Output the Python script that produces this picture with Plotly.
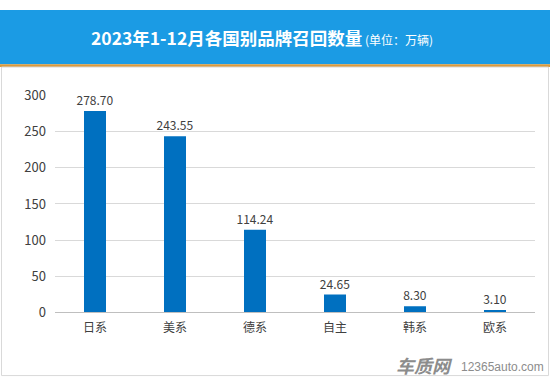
import plotly.graph_objects as go

categories = ["日系", "美系", "德系", "自主", "韩系", "欧系"]
values = [278.70, 243.55, 114.24, 24.65, 8.30, 3.10]
value_labels = ["278.70", "243.55", "114.24", "24.65", "8.30", "3.10"]
y_ticks = [0, 50, 100, 150, 200, 250, 300]

W, H = 550, 386
FONT = "Noto Sans CJK SC, Noto Sans, sans-serif"

def px_x(p):
    return p / W

def px_y(p):
    return 1 - p / H

fig = go.Figure(go.Bar(
    x=categories, y=values,
    marker=dict(color="#0070C0", line=dict(width=0)),
    text=value_labels, textposition="outside", cliponaxis=False,
    constraintext="none",
    textfont=dict(size=12, color="#404040", family=FONT),
    hoverinfo="skip",
))

fig.update_layout(
    width=W, height=H,
    margin=dict(l=0, r=0, t=0, b=0),
    paper_bgcolor="white", plot_bgcolor="white",
    bargap=0.725,
    showlegend=False,
    font=dict(family=FONT, color="#595959"),
    xaxis=dict(
        domain=[px_x(55), px_x(535)],
        showgrid=False, showline=True, linecolor="#BFBFBF", linewidth=1,
        ticks="", tickfont=dict(size=12, color="#404040"),
        ticklabelstandoff=4,
        fixedrange=True,
    ),
    yaxis=dict(
        domain=[px_y(318), px_y(90)],
        range=[0, 300], tickvals=y_ticks,
        showgrid=True, gridcolor="#D9D9D9", gridwidth=1,
        zeroline=False, showline=False, ticks="",
        tickfont=dict(size=13, color="#404040"),
        ticklabelstandoff=8,
        fixedrange=True,
    ),
    shapes=[
        dict(type="rect", xref="paper", yref="paper",
             x0=0, x1=1, y0=px_y(57), y1=1,
             fillcolor="#1B9BE4", line=dict(width=0), layer="below"),
        dict(type="rect", xref="paper", yref="paper",
             x0=0, x1=1, y0=px_y(60), y1=px_y(57),
             fillcolor="#D99A3E", line=dict(width=0), layer="below"),
        dict(type="rect", xref="paper", yref="paper",
             x0=px_x(1.5), x1=px_x(548.5), y0=px_y(384.5), y1=px_y(60),
             fillcolor="rgba(0,0,0,0)", line=dict(color="#D9D9D9", width=1), layer="below"),
    ],
    annotations=[
        dict(xref="paper", yref="paper", x=px_x(262), y=px_y(29),
             xanchor="center", yanchor="middle", showarrow=False,
             text="<b>2023年1-12月各国别品牌召回数量</b><span style='font-size:12px'> (单位：万辆)</span>",
             font=dict(size=17.5, color="white", family=FONT)),
        dict(xref="paper", yref="paper", x=px_x(455), y=px_y(373),
             xanchor="right", yanchor="middle", showarrow=False,
             text="<b><i>车质网</i></b>",
             font=dict(size=18, color="#8C8C8C", family=FONT)),
        dict(xref="paper", yref="paper", x=px_x(459), y=px_y(376),
             xanchor="left", yanchor="middle", showarrow=False,
             text="12365auto.com",
             font=dict(size=12, color="#8C8C8C", family="Liberation Sans, Arial, sans-serif")),
    ],
)

post = (
    "document.documentElement.style.margin='0';"
    "document.documentElement.style.overflow='hidden';"
    "document.body.style.margin='0';"
    "document.body.style.overflow='hidden';"
    "document.body.style.height='386px';"
)
fig.write_html("out.html", config={"displayModeBar": False}, post_script=post)
